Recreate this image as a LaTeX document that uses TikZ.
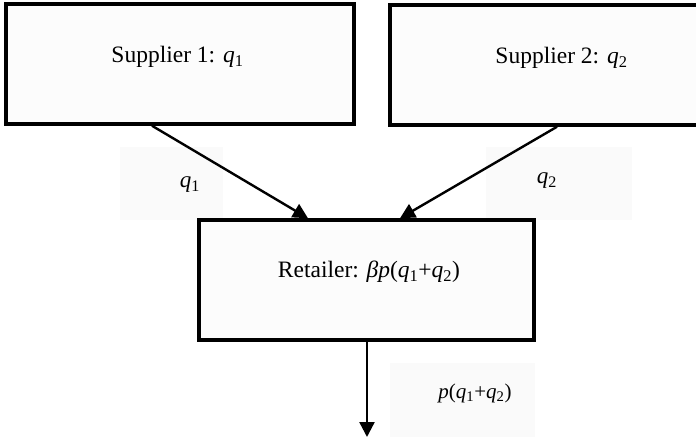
\documentclass[tikz,border=0pt]{standalone}
\usepackage{fontspec}
\setmainfont{Liberation Serif}
\usetikzlibrary{arrows.meta}
\begin{document}
\begin{tikzpicture}[x=1pt,y=-1pt,
  boxtext/.style={font=\fontsize{23.5}{28}\selectfont,anchor=base,inner sep=0pt},
  flowtext/.style={font=\fontsize{21}{25}\selectfont,anchor=base,inner sep=0pt},
  qtext/.style={font=\fontsize{23}{27}\selectfont,anchor=base,inner sep=0pt},
  agent/.style={draw=black,line width=3.5pt,fill=black!1,inner sep=0pt},
  labelbg/.style={fill=black!2,draw=none,inner sep=0pt},
  flow/.style={line width=2.4pt,-{Triangle[length=15pt,width=15pt]}}
]
\useasboundingbox (0,0) rectangle (696,438);
\clip (0,0) rectangle (696,438);
\fill[white] (0,0) rectangle (696,438);
% label backgrounds
\node[labelbg,minimum width=103pt,minimum height=73pt] (bg1) at (171.5,183.5) {};
\node[labelbg,minimum width=146pt,minimum height=73pt] (bg2) at (559,183.5) {};
\node[labelbg,minimum width=145pt,minimum height=74pt] (bg3) at (462.5,400) {};
% boxes
\node[agent,minimum width=348pt,minimum height=120pt] (s1) at (180,64) {};
\node[agent,minimum width=344pt,minimum height=120pt] (s2) at (562,65) {};
\node[agent,minimum width=335pt,minimum height=120pt] (r) at (366.5,280) {};
% box texts
\node[boxtext] (t1) at (177.5,63) {Supplier 1: \textit{q}\textsubscript{1}};
\node[boxtext] (t2) at (561.5,64) {Supplier 2: \textit{q}\textsubscript{2}};
\node[boxtext] (t3) at (369,278) {Retailer: \textit{βp}(\textit{q}\textsubscript{1}+\textit{q}\textsubscript{2})};
% flow labels
\node[qtext] (l1) at (190,188) {\textit{q}\textsubscript{1}};
\node[qtext] (l2) at (547,184) {\textit{q}\textsubscript{2}};
\node[flowtext] (l3) at (475,398) {\textit{p}(\textit{q}\textsubscript{1}+\textit{q}\textsubscript{2})};
% connectors
\coordinate (out) at (367,437);
\draw[flow] ([xshift=-28pt]s1.south) -- ([xshift=-58.5pt]r.north);
\draw[flow] ([xshift=-5pt]s2.south) -- ([xshift=33.5pt]r.north);
\draw[flow] ([xshift=0.5pt]r.south) -- (out);
\end{tikzpicture}
\end{document}
